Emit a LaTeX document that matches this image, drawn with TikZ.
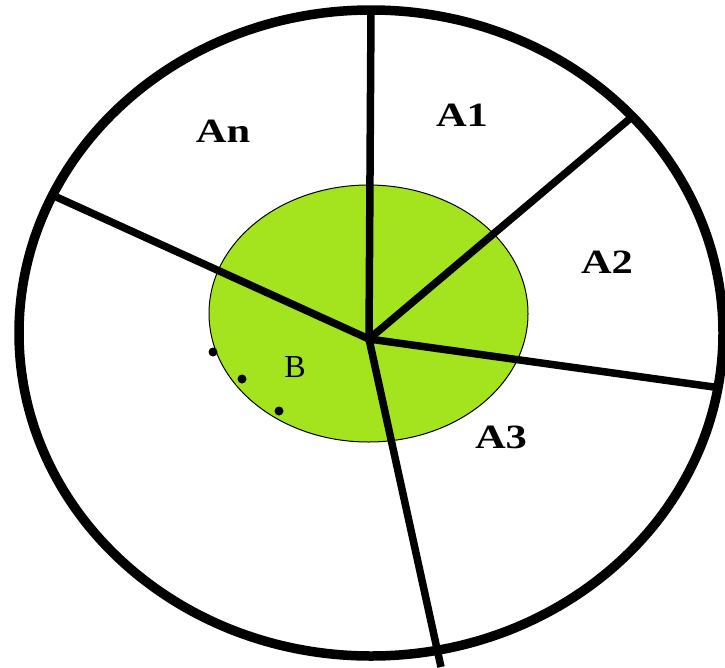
\documentclass[tikz,border=0pt]{standalone}
\usepackage{fontspec}
\setmainfont{Liberation Serif}
\usetikzlibrary{shapes.geometric}
\definecolor{limeB}{RGB}{164,228,30}
\begin{document}
\begin{tikzpicture}[x=1pt,y=-1pt,
  rim/.style={line width=9.5pt},
  spoke/.style={line width=7.5pt},
  alabel/.style={font=\fontsize{34}{34}\selectfont\bfseries, xscale=1.25, inner sep=0pt},
  blabel/.style={font=\fontsize{32}{32}\selectfont, inner sep=0pt},
  dotmark/.style={circle, fill=black, inner sep=0pt, minimum size=9pt}]
\useasboundingbox (0,0) rectangle (725,667);
% inner green region B
\node[ellipse, draw=black, line width=1pt, fill=limeB, minimum width=319pt, minimum height=257pt, inner sep=0pt] (inner) at (368.5,313.5) {};
% outer circle
\draw[rim] (371,333) ellipse [x radius=352, y radius=323];
% centre and spoke ends
\coordinate (c) at (369,339);
\coordinate (e1) at (371,10);
\coordinate (e2) at (633,116);
\coordinate (e3) at (721,388);
\coordinate (e4) at (441,667);
\coordinate (en) at (52,195);
\draw[spoke] (c) -- (e1);
\draw[spoke] (c) -- (e2);
\draw[spoke] (c) -- (e3);
\draw[spoke] (c) -- (e4);
\draw[spoke] (c) -- (en);
% dots
\node[dotmark] (d1) at (213,352) {};
\node[dotmark] (d2) at (242,379) {};
\node[dotmark] (d3) at (279,411) {};
% labels
\node[alabel] (lAn) at (223,131) {An};
\node[alabel] (lA1) at (462,115) {A1};
\node[alabel] (lA2) at (607,262) {A2};
\node[alabel] (lA3) at (501,437) {A3};
\node[blabel] (lB) at (295,367) {B};
\end{tikzpicture}
\end{document}
